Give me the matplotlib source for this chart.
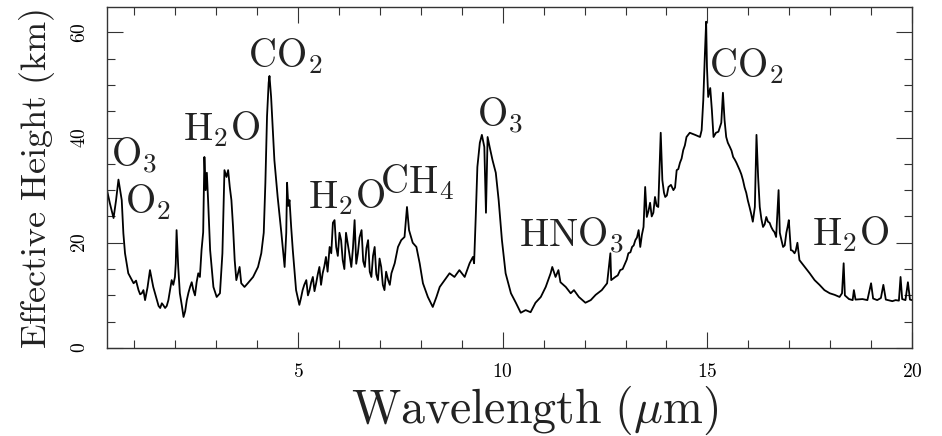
import matplotlib
matplotlib.use("Agg")
import matplotlib.pyplot as plt
from matplotlib.ticker import MultipleLocator

plt.rcParams['mathtext.fontset'] = 'cm'
plt.rcParams['font.family'] = ['cmr10', 'DejaVu Serif']
plt.rcParams['axes.formatter.use_mathtext'] = True

wavelength = [
    0.33, 0.40, 0.49, 0.55, 0.61, 0.65, 0.69, 0.73, 0.77, 0.85,
    0.98, 1.04, 1.10, 1.14, 1.18, 1.22, 1.26, 1.32, 1.38, 1.46,
    1.50, 1.55, 1.59, 1.63, 1.67, 1.70, 1.75, 1.79, 1.83, 1.87,
    1.91, 1.95, 1.99, 2.01, 2.03, 2.07, 2.11, 2.16, 2.20, 2.24,
    2.28, 2.32, 2.36, 2.40, 2.44, 2.48, 2.52, 2.56, 2.60, 2.64,
    2.68, 2.71, 2.74, 2.77, 2.80, 2.85, 2.93, 3.01, 3.09, 3.15,
    3.20, 3.25, 3.29, 3.33, 3.37, 3.41, 3.45, 3.49, 3.57, 3.61,
    3.69, 3.77, 3.90, 4.02, 4.10, 4.16, 4.20, 4.24, 4.28, 4.30,
    4.34, 4.42, 4.50, 4.59, 4.67, 4.71, 4.73, 4.76, 4.79, 4.83,
    4.87, 4.95, 5.03, 5.07, 5.11, 5.15, 5.20, 5.24, 5.28, 5.32,
    5.36, 5.40, 5.44, 5.48, 5.52, 5.56, 5.60, 5.64, 5.68, 5.72,
    5.77, 5.81, 5.85, 5.89, 5.93, 5.97, 6.01, 6.05, 6.09, 6.13,
    6.17, 6.21, 6.25, 6.30, 6.34, 6.38, 6.42, 6.46, 6.50, 6.55,
    6.59, 6.63, 6.67, 6.71, 6.75, 6.79, 6.83, 6.87, 6.91, 6.95,
    6.99, 7.03, 7.07, 7.11, 7.15, 7.20, 7.24, 7.28, 7.36, 7.44,
    7.52, 7.60, 7.66, 7.71, 7.80, 7.89, 7.97, 8.05, 8.17, 8.29,
    8.38, 8.46, 8.58, 8.70, 8.82, 8.94, 9.07, 9.19, 9.27, 9.30,
    9.34, 9.38, 9.44, 9.49, 9.55, 9.59, 9.63, 9.68, 9.75, 9.83,
    9.90, 9.98, 10.07, 10.20, 10.32, 10.44, 10.56, 10.68, 10.80, 10.93,
    11.05, 11.17, 11.21, 11.29, 11.36, 11.41, 11.54, 11.66, 11.74, 11.86,
    12.02, 12.15, 12.27, 12.42, 12.55, 12.63, 12.65, 12.75, 12.81, 12.87,
    12.93, 12.99, 13.03, 13.07, 13.12, 13.16, 13.20, 13.24, 13.28, 13.32,
    13.36, 13.40, 13.44, 13.48, 13.52, 13.56, 13.60, 13.64, 13.68, 13.72,
    13.76, 13.80, 13.86, 13.90, 13.94, 13.97, 14.01, 14.05, 14.11, 14.17,
    14.21, 14.25, 14.29, 14.33, 14.37, 14.41, 14.45, 14.49, 14.57, 14.70,
    14.82, 14.86, 14.90, 14.94, 14.97, 14.99, 15.02, 15.07, 15.11, 15.15,
    15.21, 15.27, 15.34, 15.38, 15.42, 15.46, 15.50, 15.55, 15.59, 15.63,
    15.67, 15.71, 15.75, 15.79, 15.83, 15.87, 15.91, 15.95, 15.99, 16.03,
    16.07, 16.11, 16.16, 16.20, 16.24, 16.28, 16.32, 16.36, 16.40, 16.44,
    16.48, 16.52, 16.56, 16.60, 16.64, 16.68, 16.74, 16.77, 16.81, 16.85,
    16.89, 16.93, 16.96, 16.99, 17.04, 17.08, 17.13, 17.16, 17.20, 17.25,
    17.38, 17.50, 17.62, 17.74, 17.86, 17.99, 18.11, 18.23, 18.29, 18.33,
    18.36, 18.46, 18.55, 18.58, 18.62, 18.79, 18.91, 19.00, 19.05, 19.15,
    19.24, 19.30, 19.36, 19.52, 19.60, 19.68, 19.72, 19.76, 19.84, 19.90,
    19.95, 20.00,
]

height = [
    30.0, 27.5, 24.7, 28.0, 32.0, 30.0, 28.1, 21.8, 18.0, 14.2,
    12.3, 12.8, 11.0, 10.2, 10.4, 11.0, 9.1, 11.5, 14.8, 11.6,
    10.5, 9.1, 8.0, 7.6, 8.5, 8.2, 7.6, 8.0, 9.1, 11.0,
    12.9, 12.0, 13.5, 16.0, 22.4, 15.4, 10.4, 8.0, 5.9, 7.0,
    9.1, 10.5, 11.6, 12.5, 11.0, 10.0, 12.5, 14.2, 13.5, 18.6,
    22.0, 36.3, 30.0, 33.3, 28.1, 18.6, 11.6, 9.7, 10.4, 18.0,
    33.8, 32.5, 33.8, 30.6, 28.1, 23.0, 16.7, 12.9, 15.4, 12.3,
    11.6, 12.3, 13.5, 15.4, 18.0, 21.9, 31.4, 44.0, 50.4, 51.7,
    47.7, 35.7, 28.7, 21.9, 15.4, 21.9, 31.4, 27.0, 28.1, 23.0,
    18.6, 11.0, 8.2, 9.5, 11.0, 12.0, 12.9, 10.0, 11.0, 12.5,
    13.5, 10.8, 12.3, 14.0, 15.4, 12.0, 14.2, 15.5, 17.3, 14.5,
    19.2, 18.0, 23.8, 24.3, 19.2, 17.5, 21.9, 20.5, 16.7, 15.0,
    21.9, 20.0, 18.0, 15.4, 19.0, 24.3, 16.0, 18.0, 21.0, 22.4,
    16.5, 15.4, 19.0, 20.5, 14.5, 13.5, 17.5, 19.2, 14.0, 12.9,
    17.0, 15.4, 12.0, 11.0, 14.5, 12.9, 12.0, 14.2, 16.1, 19.2,
    20.5, 21.1, 26.8, 22.4, 20.0, 19.2, 16.1, 12.3, 9.7, 7.8,
    9.7, 11.6, 12.9, 14.2, 13.5, 14.8, 13.5, 16.1, 17.3, 16.1,
    24.9, 34.4, 39.0, 40.5, 38.2, 25.7, 40.1, 38.2, 35.7, 33.3,
    28.1, 20.5, 14.2, 10.4, 8.6, 6.7, 7.2, 6.8, 8.6, 9.7,
    11.6, 14.2, 15.4, 13.5, 14.8, 12.5, 11.6, 10.4, 11.0, 9.7,
    8.6, 9.1, 10.1, 11.0, 12.3, 18.0, 12.9, 13.5, 13.8, 14.8,
    15.0, 16.1, 16.8, 18.0, 18.2, 19.2, 19.5, 20.5, 21.0, 22.4,
    19.2, 21.5, 23.0, 30.6, 24.9, 26.0, 27.6, 25.0, 25.7, 28.7,
    27.0, 26.8, 40.9, 31.9, 29.5, 28.7, 29.0, 30.6, 31.0, 30.0,
    30.5, 33.8, 34.0, 35.2, 36.0, 37.6, 38.5, 40.1, 40.9, 40.5,
    40.1, 41.4, 47.1, 56.0, 62.0, 53.4, 47.7, 49.4, 45.2, 40.1,
    40.9, 41.1, 42.8, 48.5, 43.3, 40.1, 39.0, 38.2, 37.5, 36.3,
    35.8, 35.2, 34.5, 33.8, 33.0, 31.9, 30.5, 29.5, 28.0, 26.8,
    25.5, 24.0, 26.8, 40.5, 32.5, 26.8, 24.5, 23.0, 23.5, 24.9,
    24.0, 23.8, 23.0, 22.4, 22.0, 21.1, 30.0, 21.9, 20.5, 19.2,
    19.5, 21.9, 23.0, 24.3, 18.6, 18.5, 18.0, 18.5, 20.0, 16.7,
    15.4, 14.2, 12.9, 12.0, 11.0, 10.4, 10.1, 9.7, 10.4, 16.1,
    10.0, 9.3, 9.1, 11.0, 9.2, 9.3, 9.1, 12.3, 9.4, 9.1,
    9.5, 12.0, 9.2, 8.9, 9.1, 9.0, 13.5, 9.3, 9.1, 12.5,
    9.2, 9.1,
]

labels = [r"$\mathrm{O_3}$", r"$\mathrm{O_2}$", r"$\mathrm{H_2O}$", r"$\mathrm{CO_2}$",
          r"$\mathrm{H_2O}$", r"$\mathrm{CH_4}$", r"$\mathrm{O_3}$", r"$\mathrm{HNO_3}$",
          r"$\mathrm{CO_2}$", r"$\mathrm{H_2O}$"]
label_x = [0.43, 0.78, 2.19, 3.78, 5.24, 7.0, 9.38, 10.40, 15.04, 17.56]
label_y = [34.4, 25.7, 39.5, 53.4, 26.6, 29.5, 42.0, 19.2, 51.5, 19.6]

fig = plt.figure(figsize=(9.42, 4.36), dpi=100)
ax = fig.add_axes([107/942, 88/436, (912-107)/942, (429-88)/436])

ax.plot(wavelength, height, color='black', lw=1.3)

ax.set_xlim(0.33, 20)
ax.set_ylim(0, 64.8)
ax.xaxis.set_major_locator(MultipleLocator(5))
ax.xaxis.set_minor_locator(MultipleLocator(1))
ax.yaxis.set_major_locator(MultipleLocator(20))
ax.yaxis.set_minor_locator(MultipleLocator(5))
ax.tick_params(which='both', direction='in', top=True, right=True, width=0.8, color='#333333')
ax.tick_params(which='major', length=11.5)
ax.tick_params(which='minor', length=5.8)
ax.tick_params(axis='x', labelsize=14, pad=11)
ax.tick_params(axis='y', labelsize=14, pad=13, labelrotation=90)
for lab in ax.get_yticklabels():
    lab.set_va('center')
for sp in ax.spines.values():
    sp.set_linewidth(1.0)
    sp.set_color('#333333')

for t, xx, yy in zip(labels, label_x, label_y):
    ax.text(xx, yy, t, fontsize=28, ha='left', va='baseline', color='#222222')

fig.text(535/942, 13/436, r"$\mathrm{Wavelength}\ (\mu\mathrm{m})$", fontsize=34.5,
         ha='center', va='baseline', color='#222222')
fig.text(37/942, 1 - 179/436, r"$\mathrm{Effective\ Height\ (km)}$", fontsize=26,
         ha='center', va='center', rotation=90, color='#222222')

fig.savefig("out.png", dpi=100)
